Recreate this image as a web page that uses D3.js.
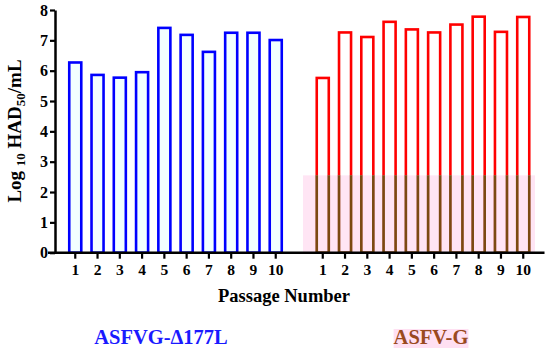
<!DOCTYPE html>
<html><head><meta charset="utf-8">
<script src="https://cdn.jsdelivr.net/npm/d3@7"></script>
<style>
body{margin:0;background:#fff;}
svg{display:block;}
svg text{font-family:"Liberation Serif","Times New Roman",Times,serif !important;font-weight:bold;}
</style></head>
<body>
<svg id="c" width="550" height="351"></svg>
<script>
const passages = ["1","2","3","4","5","6","7","8","9","10"];
const deltaValues = [6.27, 5.86, 5.77, 5.95, 7.41, 7.18, 6.62, 7.25, 7.25, 7.01];
const wildValues  = [5.76, 7.26, 7.11, 7.61, 7.36, 7.26, 7.52, 7.78, 7.28, 7.77];
const yTicks = [0,1,2,3,4,5,6,7,8];
const groupNames = ["ASFVG-\u0394177L", "ASFV-G"];
const shadeLevel = 2.55;

const svg = d3.select("#c");
const y = d3.scaleLinear().domain([0,8]).range([252.7,10]);
const xA = d3.scaleBand().domain(passages).range([59,292]).padding(0.46);
const xB = d3.scaleBand().domain(passages).range([306.5,539.5]).padding(0.46);

// Blue bars
svg.append("g").selectAll("rect").data(deltaValues).join("rect")
  .attr("x",(d,i)=>xA(passages[i])).attr("width",xA.bandwidth())
  .attr("y",d=>y(d)).attr("height",d=>y(0)-y(d))
  .attr("fill","#f2ffff").attr("stroke","#0000ff").attr("stroke-width",2.6);

// Red bars
svg.append("g").selectAll("rect").data(wildValues).join("rect")
  .attr("x",(d,i)=>xB(passages[i])).attr("width",xB.bandwidth())
  .attr("y",d=>y(d)).attr("height",d=>y(0)-y(d))
  .attr("fill","#ffffff").attr("stroke","#ff0000").attr("stroke-width",2.6);

// Pink shaded region
const shX0 = xB.range()[0]-3.5, shX1 = xB.range()[1]-4.5;
svg.append("rect").attr("x",shX0).attr("width",shX1-shX0)
  .attr("y",y(shadeLevel)).attr("height",y(0)-y(shadeLevel))
  .attr("fill","#ffdcf0").attr("opacity",0.75);
svg.append("clipPath").attr("id","shclip").append("rect")
  .attr("x",shX0).attr("width",shX1-shX0)
  .attr("y",y(shadeLevel)).attr("height",y(0)-y(shadeLevel));
svg.append("g").attr("clip-path","url(#shclip)").selectAll("rect").data(wildValues).join("rect")
  .attr("x",(d,i)=>xB(passages[i])).attr("width",xB.bandwidth())
  .attr("y",d=>y(d)).attr("height",d=>y(0)-y(d))
  .attr("fill","none").attr("stroke","#7a4a12").attr("stroke-width",2.6);

// Y axis
const yAx = svg.append("g").attr("transform","translate(55,0)")
  .call(d3.axisLeft(y).tickValues(yTicks).tickSize(5).tickPadding(2).tickSizeOuter(0));
yAx.select(".domain").attr("stroke","#000").attr("stroke-width",2.5);
yAx.selectAll(".tick line").attr("stroke","#000").attr("stroke-width",2.2);
yAx.selectAll(".tick text").attr("font-size",16).attr("fill","#000");

// X axis line
svg.append("line").attr("x1",48).attr("x2",xB.range()[1]+5)
  .attr("y1",y(0)).attr("y2",y(0)).attr("stroke","#000").attr("stroke-width",2.6);

function xAxis(scale){
  const g = svg.append("g").attr("transform",`translate(0,${y(0)})`)
    .call(d3.axisBottom(scale).tickSize(6).tickPadding(5).tickSizeOuter(0));
  g.select(".domain").remove();
  g.selectAll(".tick line").attr("stroke","#000").attr("stroke-width",2.2);
  g.selectAll(".tick text").attr("font-size",15.5).attr("fill","#000");
  return g;
}
xAxis(xA); xAxis(xB);

// Axis titles
svg.append("text").attr("x",284).attr("y",302).attr("text-anchor","middle")
  .attr("font-size",18.5).attr("fill","#000").text("Passage Number");

const yl = svg.append("text").attr("transform","translate(21,131) rotate(-90)")
  .attr("text-anchor","middle").attr("font-size",19).attr("fill","#000");
yl.append("tspan").text("Log ");
yl.append("tspan").attr("font-size",13).attr("dy",4).text("10");
yl.append("tspan").attr("dy",-4).text(" HAD");
yl.append("tspan").attr("font-size",13).attr("dy",4).text("50");
yl.append("tspan").attr("dy",-4).text("/mL");

// Group labels
svg.append("text").attr("x",161).attr("y",344).attr("text-anchor","middle")
  .attr("font-size",20.5).attr("fill","#1a1aff").text(groupNames[0]);
const gB = svg.append("g");
const tB = gB.append("text").attr("x",431).attr("y",344).attr("text-anchor","middle")
  .attr("font-size",20.5).attr("fill","#9a4a1e").text(groupNames[1]);
const bb = tB.node().getBBox();
gB.insert("rect","text").attr("x",bb.x).attr("y",bb.y+3).attr("width",bb.width).attr("height",bb.height-3)
  .attr("fill","#ffe0f2");
</script>
</body></html>
